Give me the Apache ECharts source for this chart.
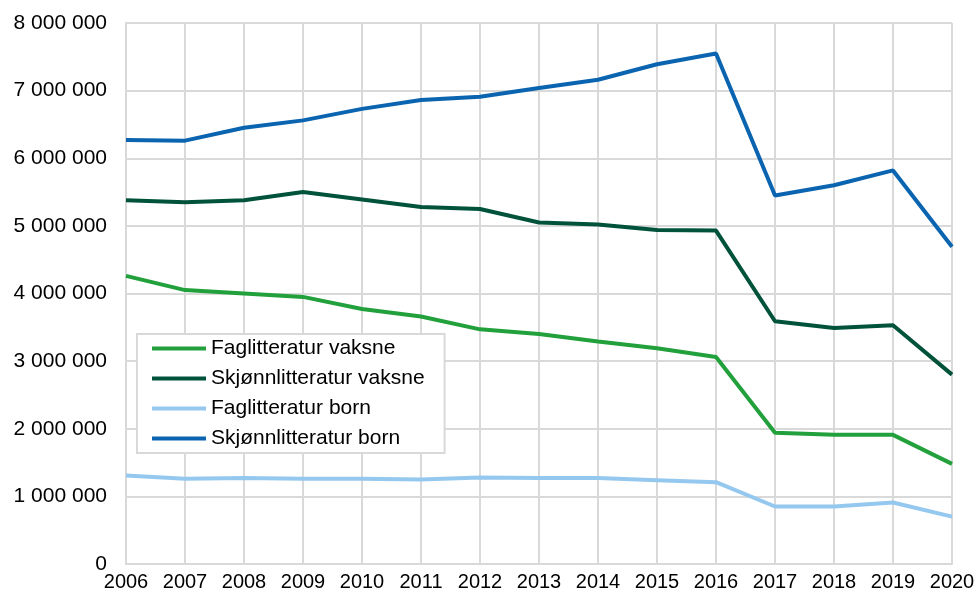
<!DOCTYPE html>
<html>
<head>
<meta charset="utf-8">
<script src="https://cdn.jsdelivr.net/npm/echarts@6/dist/echarts.min.js"></script>
<style>
  html, body { margin: 0; padding: 0; background: #fff; }
  #chart { width: 978px; height: 592px; }
</style>
</head>
<body>
<div id="chart"></div>
<script>
const years = ["2006", "2007", "2008", "2009", "2010", "2011", "2012", "2013", "2014", "2015", "2016", "2017", "2018", "2019", "2020"];
const fagVaksne = [4260000, 4050000, 4000000, 3950000, 3770000, 3660000, 3470000, 3400000, 3290000, 3190000, 3060000, 1940000, 1910000, 1910000, 1480000];
const skjonnVaksne = [5380000, 5350000, 5380000, 5500000, 5390000, 5280000, 5250000, 5050000, 5020000, 4940000, 4930000, 3590000, 3490000, 3530000, 2800000];
const fagBorn = [1310000, 1260000, 1270000, 1260000, 1260000, 1250000, 1280000, 1270000, 1270000, 1240000, 1210000, 850000, 850000, 910000, 700000];
const skjonnBorn = [6270000, 6260000, 6450000, 6560000, 6730000, 6860000, 6910000, 7040000, 7160000, 7390000, 7550000, 5450000, 5600000, 5820000, 4690000];

const font = "'Liberation Sans', Arial, sans-serif";
const gridColor = "#d9d9d9";

function fmt(v) {
  return String(v).replace(/\B(?=(\d{3})+(?!\d))/g, " ");
}

function line(name, data, color) {
  return {
    name: name,
    type: "line",
    data: data,
    symbol: "none",
    lineStyle: { width: 4, color: color },
    itemStyle: { color: color },
  };
}

const myChart = echarts.init(document.getElementById("chart"));
myChart.setOption({
  animation: false,
  textStyle: { fontFamily: font },
  grid: { left: 126, right: 26, top: 23, bottom: 27 },
  legend: {
    orient: "vertical",
    left: 137,
    top: 334,
    padding: [4, 20, 4, 15],
    itemGap: 9,
    itemWidth: 54,
    itemHeight: 4,
    icon: "rect",
    backgroundColor: "#fff",
    borderColor: gridColor,
    borderWidth: 2,
    borderRadius: 0,
    textStyle: { fontSize: 21, lineHeight: 21, color: "#000", fontFamily: font },
    data: ["Faglitteratur vaksne", "Skjønnlitteratur vaksne", "Faglitteratur born", "Skjønnlitteratur born"],
  },
  xAxis: {
    type: "category",
    data: years,
    boundaryGap: false,
    axisLine: { lineStyle: { color: gridColor, width: 2 } },
    axisTick: { show: false },
    splitLine: { show: true, lineStyle: { color: gridColor, width: 2 } },
    axisLabel: { color: "#000", fontSize: 20, margin: 8, fontFamily: font },
  },
  yAxis: {
    type: "value",
    min: 0,
    max: 8000000,
    interval: 1000000,
    axisLine: { show: true, lineStyle: { color: gridColor, width: 2 } },
    splitLine: { lineStyle: { color: gridColor, width: 2 } },
    axisLabel: { color: "#000", fontSize: 21, margin: 19, fontFamily: font, formatter: fmt },
  },
  series: [
    line("Faglitteratur vaksne", fagVaksne, "#22a03c"),
    line("Skjønnlitteratur vaksne", skjonnVaksne, "#00533a"),
    line("Faglitteratur born", fagBorn, "#95c8ee"),
    line("Skjønnlitteratur born", skjonnBorn, "#0a64b0"),
  ],
});
</script>
</body>
</html>
